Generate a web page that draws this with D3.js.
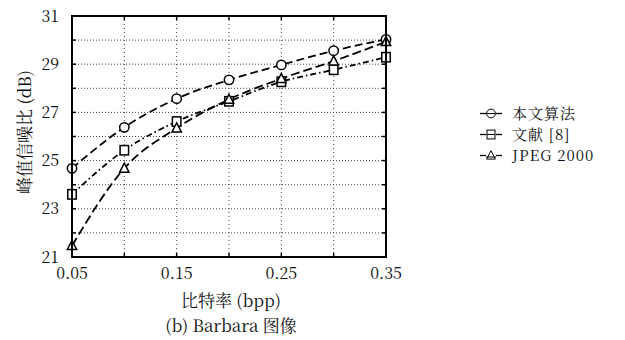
<!DOCTYPE html>
<html><head><meta charset="utf-8">
<script src="https://cdn.jsdelivr.net/npm/d3@7/dist/d3.min.js"></script>
<style>
body{margin:0;background:#fff;}
svg{display:block;}
</style></head>
<body><svg id="c" width="625" height="340"></svg>
<script>
const bitrates = [0.05, 0.10, 0.15, 0.20, 0.25, 0.30, 0.35];
const seriesNames = ["本文算法", "文献 [8]", "JPEG 2000"];
const oursPSNR = [24.68, 26.38, 27.57, 28.35, 28.97, 29.56, 30.03];
const ref8PSNR = [23.60, 25.43, 26.62, 27.46, 28.27, 28.77, 29.29];
const jpegPSNR = [21.47, 24.68, 26.35, 27.54, 28.40, 29.13, 29.93];
const xTickLabels = [0.05, 0.15, 0.25, 0.35];
const yTickLabels = [21, 23, 25, 27, 29, 31];
const xGrid = [0.10, 0.15, 0.20, 0.25, 0.30];
const yGrid = [22, 23, 24, 25, 26, 27, 28, 29, 30];

const FONT = "Noto Serif CJK SC";
const svg = d3.select("#c");
const L = 72, R = 386, T = 16, B = 257;
const x = d3.scaleLinear().domain([0.05, 0.35]).range([L, R]);
const y = d3.scaleLinear().domain([21, 31]).range([B, T]);

// grid
const g = svg.append("g");
g.selectAll(".gx").data(xGrid).enter().append("line")
  .attr("x1", d => x(d)).attr("x2", d => x(d)).attr("y1", T).attr("y2", B)
  .attr("stroke", "#444").attr("stroke-width", 1).attr("stroke-dasharray", "1,3");
g.selectAll(".gy").data(yGrid).enter().append("line")
  .attr("y1", d => y(d)).attr("y2", d => y(d)).attr("x1", L).attr("x2", R)
  .attr("stroke", "#444").attr("stroke-width", 1).attr("stroke-dasharray", "1,2");

// ticks inward on all sides
const tl = 4;
xGrid.forEach(v => {
  svg.append("line").attr("x1", x(v)).attr("x2", x(v)).attr("y1", B).attr("y2", B - tl).attr("stroke", "#000").attr("stroke-width", 1.5);
  svg.append("line").attr("x1", x(v)).attr("x2", x(v)).attr("y1", T).attr("y2", T + tl).attr("stroke", "#000").attr("stroke-width", 1.5);
});
yGrid.forEach(v => {
  svg.append("line").attr("y1", y(v)).attr("y2", y(v)).attr("x1", L).attr("x2", L + tl).attr("stroke", "#000").attr("stroke-width", 1.5);
  svg.append("line").attr("y1", y(v)).attr("y2", y(v)).attr("x1", R).attr("x2", R - tl).attr("stroke", "#000").attr("stroke-width", 1.5);
});

// tick labels
svg.selectAll(".xt").data(xTickLabels).enter().append("text")
  .attr("font-family", FONT).attr("fill", "#111")
  .attr("x", d => x(d)).attr("y", 279).attr("text-anchor", "middle")
  .attr("font-size", 16).text(d => d.toFixed(2));
svg.selectAll(".yt").data(yTickLabels).enter().append("text")
  .attr("font-family", FONT).attr("fill", "#111")
  .attr("x", 59).attr("y", d => y(d) + 5.5).attr("text-anchor", "end")
  .attr("font-size", 16).text(d => d);

// series
const series = [
  {name: seriesNames[0], vals: oursPSNR, marker: "circle", dash: "8,4"},
  {name: seriesNames[1], vals: ref8PSNR, marker: "square", dash: "6,3,1.5,3"},
  {name: seriesNames[2], vals: jpegPSNR, marker: "triangle", dash: "9,4"}
];
const line = d3.line().x(d => x(d[0])).y(d => y(d[1])).curve(d3.curveMonotoneX);

function drawMarker(sel, type, cx, cy, s, sw) {
  let el;
  if (type === "circle") {
    el = sel.append("circle").attr("cx", cx).attr("cy", cy).attr("r", s * 0.55);
  } else if (type === "square") {
    el = sel.append("rect").attr("x", cx - s * 0.5).attr("y", cy - s * 0.55).attr("width", s).attr("height", s * 1.1);
  } else {
    el = sel.append("path").attr("d", `M${cx},${cy - s * 0.6}L${cx + s * 0.55},${cy + s * 0.45}L${cx - s * 0.55},${cy + s * 0.45}Z`);
  }
  el.attr("fill", "#fff").attr("stroke", "#000").attr("stroke-width", sw);
}

series.forEach(s => {
  const pts = bitrates.map((b, i) => [b, s.vals[i]]);
  svg.append("path").attr("d", line(pts)).attr("fill", "none")
    .attr("stroke", "#000").attr("stroke-width", 1.8).attr("stroke-dasharray", s.dash);
});
series.forEach(s => {
  const mg = svg.append("g");
  bitrates.forEach((b, i) => drawMarker(mg, s.marker, x(b), y(s.vals[i]), 8.5, 1.5));
});

// frame
svg.append("rect").attr("x", L).attr("y", T).attr("width", R - L).attr("height", B - T)
  .attr("fill", "none").attr("stroke", "#000").attr("stroke-width", 2);

// axis titles
svg.append("text").attr("font-family", FONT).attr("fill", "#111").attr("x", 231).attr("y", 307).attr("text-anchor", "middle")
  .attr("font-size", 17).text("比特率 (bpp)");
svg.append("text").attr("font-family", FONT).attr("fill", "#111").attr("x", 231).attr("y", 332).attr("text-anchor", "middle")
  .attr("font-size", 17).text("(b) Barbara 图像");
svg.append("text").attr("font-family", FONT).attr("fill", "#111").attr("transform", "translate(31,132) rotate(-90)").attr("text-anchor", "middle")
  .attr("font-size", 17).text("峰值信噪比 (dB)");

// legend
const legY = [113.5, 134.5, 155.5];
series.forEach((s, i) => {
  const lg = svg.append("g");
  const cy = legY[i];
  lg.append("line").attr("x1", 480).attr("x2", 486).attr("y1", cy).attr("y2", cy).attr("stroke", "#000").attr("stroke-width", 1.3);
  lg.append("line").attr("x1", 496).attr("x2", 502).attr("y1", cy).attr("y2", cy).attr("stroke", "#000").attr("stroke-width", 1.3);
  drawMarker(lg, s.marker, 491, cy, 8, 1);
  if (s.marker === "circle" || s.marker === "square") {
    lg.append("line").attr("x1", 487).attr("x2", 495).attr("y1", cy).attr("y2", cy).attr("stroke", "#000").attr("stroke-width", 1);
  } else {
    lg.append("line").attr("x1", 486).attr("x2", 496).attr("y1", cy + 1.5).attr("y2", cy + 1.5).attr("stroke", "#000").attr("stroke-width", 1);
  }
  lg.append("text").attr("font-family", FONT).attr("fill", "#111").attr("x", 512).attr("y", cy + 5.5).attr("font-size", 15)
    .attr("letter-spacing", 1).text(s.name);
});
</script></body></html>
